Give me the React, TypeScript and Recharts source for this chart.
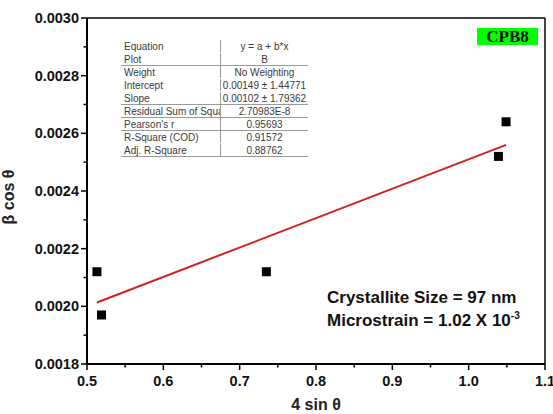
import { ScatterChart, Scatter, XAxis, YAxis, ReferenceLine, Label } from 'recharts';

// Williamson–Hall data: 4 sinθ vs β cosθ
const sinTheta = [0.513, 0.519, 0.735, 1.039, 1.049];
const betaCos = [0.00212, 0.00197, 0.00212, 0.00252, 0.00264];

const xTicks = [0.5, 0.55, 0.6, 0.65, 0.7, 0.75, 0.8, 0.85, 0.9, 0.95, 1.0, 1.05, 1.1];
const yTicks = [0.0018, 0.0019, 0.002, 0.0021, 0.0022, 0.0023, 0.0024, 0.0025, 0.0026, 0.0027, 0.0028, 0.0029, 0.003];

// linear fit y = a + b*x
const intercept = 0.00149;
const slope = 0.00102;

const fitLabels = ['Equation', 'Plot', 'Weight', 'Intercept', 'Slope', 'Residual Sum of Squa', "Pearson's r", 'R-Square (COD)', 'Adj. R-Square'];
const fitValues = ['y = a + b*x', 'B', 'No Weighting', '0.00149 ± 1.44771', '0.00102 ± 1.79362', '2.70983E-8', '0.95693', '0.91572', '0.88762'];
// rows followed by a separator line
const ruledRows = [1, 4, 5, 6, 8];

const points = sinTheta.map((x, i) => ({ x, y: betaCos[i] }));
const xMin = Math.min(...sinTheta);
const xMax = Math.max(...sinTheta);
const fitSegment = [
  { x: xMin, y: intercept + slope * xMin },
  { x: xMax, y: intercept + slope * xMax },
];

const tickFont = { fontFamily: 'Liberation Sans, Arial, sans-serif', fontWeight: 700, fontSize: 14.5, fill: '#111' };

const XTick = (props: any) => {
  const { x, y, index } = props;
  const major = index % 2 === 0;
  return (
    <g>
      <line x1={x} y1={y} x2={x} y2={y + (major ? 6 : 3.5)} stroke="#000" strokeWidth={1.5} />
      {major && (
        <text x={x} y={y + 22} textAnchor="middle" {...tickFont}>
          {props.payload.value.toFixed(1)}
        </text>
      )}
    </g>
  );
};

const YTick = (props: any) => {
  const { x, y, index } = props;
  const major = index % 2 === 0;
  return (
    <g>
      <line x1={x} y1={y} x2={x - (major ? 6 : 3.5)} y2={y} stroke="#000" strokeWidth={1.5} />
      {major && (
        <text x={x - 8} y={y + 5} textAnchor="end" {...tickFont}>
          {props.payload.value.toFixed(4)}
        </text>
      )}
    </g>
  );
};

const SquareDot = (props: any) => {
  const { cx, cy } = props;
  return <rect x={cx - 4.5} y={cy - 4.5} width={9} height={9} fill="#000" />;
};

function FitTable() {
  return (
    <div
      style={{
        position: 'absolute',
        left: 121,
        top: 40,
        width: 187,
        fontFamily: 'Liberation Sans, Arial, sans-serif',
        fontSize: 10,
        color: '#3a3a3a',
      }}
    >
      {fitLabels.map((label, i) => (
        <div
          key={label}
          style={{
            display: 'flex',
            height: 13,
            lineHeight: '13px',
            borderBottom: ruledRows.includes(i) ? '1px solid #999' : '1px solid transparent',
            boxSizing: 'border-box',
          }}
        >
          <div style={{ width: 100, paddingLeft: 3, borderRight: '1px solid #999', whiteSpace: 'nowrap', overflow: 'hidden', boxSizing: 'border-box' }}>
            {label}
          </div>
          <div style={{ flex: 1, textAlign: 'center', whiteSpace: 'nowrap' }}>{fitValues[i]}</div>
        </div>
      ))}
    </div>
  );
}

export default function App() {
  return (
    <div style={{ position: 'absolute', left: 0, top: 0, width: 553, height: 414, background: '#fff' }}>
      <ScatterChart width={553} height={414} margin={{ top: 18, right: 8, bottom: 0, left: 0 }}>
        <XAxis
          type="number"
          dataKey="x"
          domain={[0.5, 1.1]}
          ticks={xTicks}
          interval={0}
          height={50}
          tickSize={0}
          tickMargin={0}
          tickLine={false}
          tick={<XTick />}
          axisLine={{ stroke: '#000', strokeWidth: 2 }}
        >
          <Label
            value="4 sin θ"
            position="insideBottom"
            offset={4}
            style={{ fontFamily: 'Liberation Sans, Arial, sans-serif', fontWeight: 700, fontSize: 16, fill: '#222' }}
          />
        </XAxis>
        <YAxis
          type="number"
          dataKey="y"
          domain={[0.0018, 0.003]}
          ticks={yTicks}
          interval={0}
          width={87}
          tickSize={0}
          tickMargin={0}
          tickLine={false}
          tick={<YTick />}
          axisLine={{ stroke: '#000', strokeWidth: 2 }}
        >
          <Label
            value="β cos θ"
            angle={-90}
            position="insideLeft"
            offset={8}
            dy={6}
            style={{ fontFamily: 'Liberation Sans, Arial, sans-serif', fontWeight: 700, fontSize: 16, fill: '#222', textAnchor: 'middle' }}
          />
        </YAxis>
        <ReferenceLine y={0.003} stroke="#000" strokeWidth={1.5} />
        <ReferenceLine x={1.1} stroke="#000" strokeWidth={1.5} />
        <ReferenceLine segment={fitSegment} stroke="#d42020" strokeWidth={2} />
        <Scatter data={points} shape={<SquareDot />} isAnimationActive={false} />
      </ScatterChart>

      <FitTable />

      <div
        style={{
          position: 'absolute',
          left: 477,
          top: 28,
          width: 61,
          height: 17,
          background: '#00ff00',
          fontFamily: 'Liberation Serif, Times New Roman, serif',
          fontWeight: 700,
          fontSize: 17,
          lineHeight: '17px',
          textAlign: 'center',
          color: '#111',
        }}
      >
        CPB8
      </div>

      <div
        style={{
          position: 'absolute',
          left: 327,
          top: 286,
          fontFamily: 'Liberation Sans, Arial, sans-serif',
          fontWeight: 700,
          fontSize: 17,
          lineHeight: '23px',
          color: '#111',
          whiteSpace: 'nowrap',
        }}
      >
        <div>Crystallite Size = 97 nm</div>
        <div>
          Microstrain = 1.02 X 10<sup style={{ fontSize: 10, verticalAlign: 'top', lineHeight: '14px' }}>-3</sup>
        </div>
      </div>
    </div>
  );
}
